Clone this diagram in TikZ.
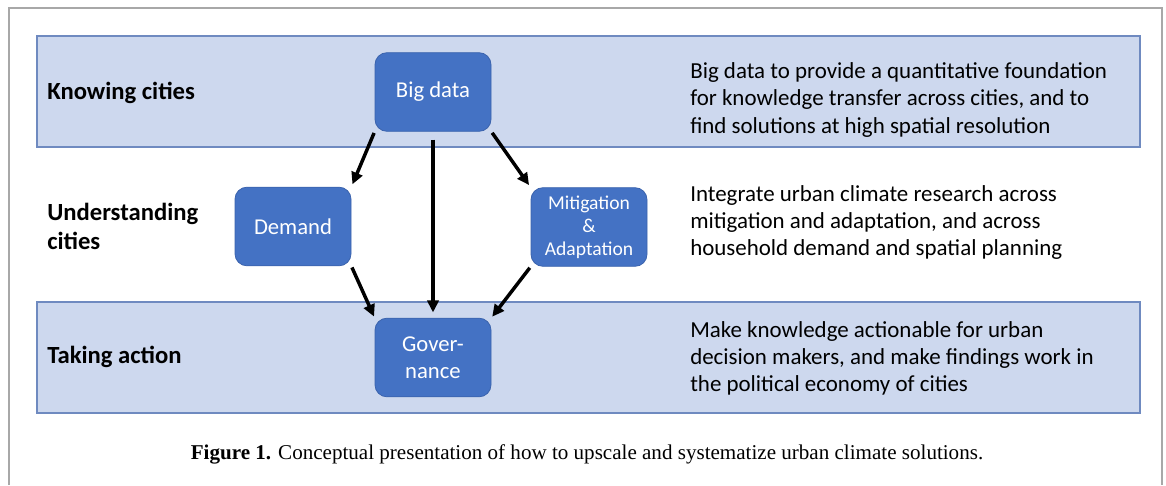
\documentclass[tikz,border=0pt]{standalone}
\usepackage{fontspec}
\setmainfont{Carlito}
\newfontfamily\capfont{Liberation Serif}
\usetikzlibrary{arrows.meta}

\definecolor{bandfill}{HTML}{CDD8EE}
\definecolor{bandline}{HTML}{6F8AC0}
\definecolor{boxfill}{HTML}{4472C4}
\definecolor{boxline}{HTML}{3B63AD}
\definecolor{framegray}{HTML}{A8A8A8}

\tikzset{
  band/.style={draw=bandline, fill=bandfill, line width=0.9pt},
  block/.style={draw=boxline, fill=boxfill, rounded corners=9pt, text=white,
    minimum width=87pt, minimum height=59pt, align=center, inner sep=2pt,
    font=\fontsize{17}{20.3}\selectfont, line width=0.6pt},
  level/.style={anchor=west, align=left, inner sep=0pt,
    font=\fontsize{18.5}{21.8}\selectfont\bfseries},
  note/.style={anchor=west, align=left, inner sep=0pt,
    font=\fontsize{17.2}{20.3}\selectfont},
  flow/.style={-{Triangle[length=9pt,width=8.5pt]}, line width=2.6pt},
}

\begin{document}
\begin{tikzpicture}[x=0.75pt,y=-0.75pt]
    \useasboundingbox (0,0) rectangle (1166,485);
    \draw[framegray, line width=1.5pt] (9,485) -- (9,8) -- (1162,8) -- (1162,485);

    \draw[band] (37,36) rectangle (1140,147);
    \draw[band] (37,302) rectangle (1140,413);

    \node[level] (know) at (47,93) {Knowing cities};
    \node[level] (under) at (47,226.5) {Understanding\\cities};
    \node[level] (act) at (47,357) {Taking action};

    \node[block] (bigdata) at (433,92) {Big data};
    \node[block] (demand) at (293,226.5) {Demand};
    \node[block, font=\fontsize{14.7}{17.3}\selectfont] (mitig) at (589,227) {Mitigation\\\&\\Adaptation};
    \node[block] (gov) at (433,357.5) {Gover-\\nance};

    \draw[flow, shorten <=1pt, shorten >=2pt] (bigdata.south west) -- (demand.north east);
    \draw[flow, shorten <=1pt, shorten >=2pt] (bigdata.south east) -- (mitig.north west);
    \draw[flow, shorten <=6pt, shorten >=4pt] (bigdata.south) -- (gov.north);
    \draw[flow, shorten <=1pt, shorten >=1pt] (demand.south east) -- (gov.north west);
    \draw[flow, shorten <=1pt, shorten >=1pt] (mitig.south west) -- (gov.north east);

    \node[note] (knownote) at (690,100) {Big data to provide a quantitative foundation\\for knowledge transfer across cities, and to\\find solutions at high spatial resolution};
    \node[note] (undernote) at (690,222.5) {Integrate urban climate research across\\mitigation and adaptation, and across\\household demand and spatial planning};
    \node[note] (actnote) at (690,358) {Make knowledge actionable for urban\\decision makers, and make findings work in\\the political economy of cities};

    \node[font=\capfont\fontsize{15.8}{18}\selectfont] (caption) at (587,454) {\textbf{Figure 1.} Conceptual presentation of how to upscale and systematize urban climate solutions.};
\end{tikzpicture}
\end{document}
